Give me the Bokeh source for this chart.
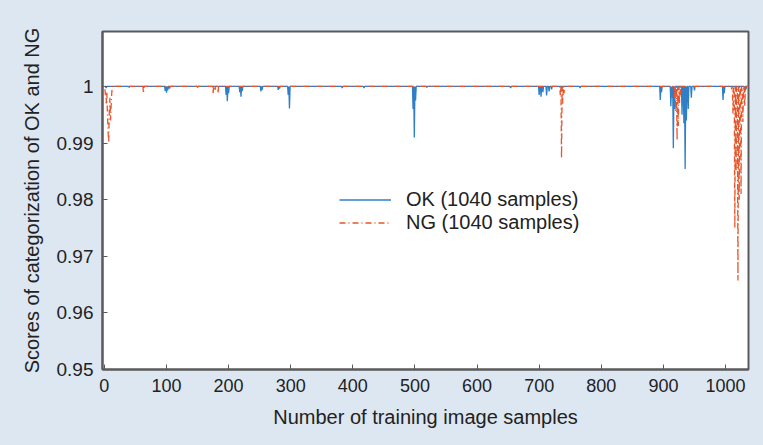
import numpy as np
from bokeh.plotting import figure
from bokeh.models import (ColumnDataSource, Legend, LegendItem, FixedTicker,
                          CustomJSTickFormatter, Range1d)
from bokeh.embed import file_html
from bokeh.resources import INLINE

# ---- data ----
N_SAMPLES = 1040
BASELINE = 1.0

ok_dip_idx = [3, 40, 98, 100, 102, 105, 150, 196, 198, 200, 218, 220, 222,
              252, 254, 280, 282, 296, 298, 383, 418, 497, 499, 501, 519,
              654, 700, 703, 706, 712, 716, 720, 766, 895, 897, 912, 914,
              916, 918, 930, 933, 935, 937, 940, 945, 950, 996, 998, 1031, 1033]
ok_dip_val = [0.9997, 0.9998, 0.9992, 0.9989, 0.9993, 0.9996, 0.9998, 0.9985,
              0.9974, 0.9988, 0.9990, 0.9982, 0.9992, 0.9991, 0.9994, 0.9994,
              0.9996, 0.9985, 0.9961, 0.9997, 0.9997, 0.9960, 0.9910, 0.9975,
              0.9998, 0.9997, 0.9985, 0.9982, 0.9990, 0.9984, 0.9991, 0.9995,
              0.9997, 0.9976, 0.9990, 0.9965, 0.9980, 0.9891, 0.9960, 0.9950,
              0.9935, 0.9854, 0.9940, 0.9960, 0.9980, 0.9993, 0.9976, 0.9988,
              0.9990, 0.9995]

ng_dip_idx = [1, 2, 3, 4, 5, 6, 7, 8, 9, 10, 11, 12, 63, 175, 178, 183,
              734, 736, 738, 740, 918, 920, 922, 924, 926, 928,
              1010, 1012, 1015, 1017, 1020, 1022, 1025, 1028, 1031]
ng_dip_val = [0.9995, 0.9980, 0.9970, 0.9990, 0.9950, 0.9920, 0.9900, 0.9960,
              0.9980, 0.9940, 0.9970, 0.9990, 0.9988, 0.9987, 0.9992, 0.9988,
              0.9985, 0.9873, 0.9970, 0.9988, 0.9980, 0.9955, 0.9905, 0.9930,
              0.9970, 0.9985, 0.9995, 0.9952, 0.9750, 0.9850, 0.9657,
              0.9800, 0.9810, 0.9937, 0.9965]

y_ticks = [0.95, 0.96, 0.97, 0.98, 0.99, 1.0]
x_ticks = [0, 100, 200, 300, 400, 500, 600, 700, 800, 900, 1000]

# ---- build series ----
x = np.arange(1, N_SAMPLES + 1)
ok = np.full(N_SAMPLES, BASELINE)
ng = np.full(N_SAMPLES, BASELINE)
for i, v in zip(ok_dip_idx, ok_dip_val):
    ok[i - 1] = v
for i, v in zip(ng_dip_idx, ng_dip_val):
    ng[i - 1] = v

src = ColumnDataSource(dict(x=x, ok=ok, ng=ng))

BG = "#dde7f2"
FONT = "Liberation Sans"

p = figure(width=755, height=437, output_backend="svg", toolbar_location=None,
           x_range=Range1d(-3, 1037), y_range=Range1d(0.95, 1.0097),
           min_border_left=102, min_border_right=7, min_border_top=31,
           min_border_bottom=68)
p.background_fill_color = "white"
p.border_fill_color = BG
p.outline_line_color = "#5a5a5a"
p.outline_line_width = 2
p.grid.visible = False

OK_COLOR = "#2f7ec6"
NG_COLOR = "#e8552a"
r_ok = p.line("x", "ok", source=src, line_color=OK_COLOR, line_width=1.3)
r_ng = p.line("x", "ng", source=src, line_color=NG_COLOR, line_width=1.3,
              line_dash="6 3 1 3")

for ax in (p.xaxis[0], p.yaxis[0]):
    ax.major_tick_in = 5
    ax.major_tick_out = 0
    ax.minor_tick_in = 0
    ax.minor_tick_out = 0
    ax.axis_line_color = "#5a5a5a"
    ax.axis_line_width = 2
    ax.major_tick_line_color = "#5a5a5a"
    ax.major_label_text_font = FONT
    ax.major_label_text_color = "#222222"
    ax.axis_label_text_font = FONT
    ax.axis_label_text_font_style = "normal"
    ax.axis_label_text_color = "#222222"

p.xaxis.major_label_text_font_size = "18px"
p.yaxis.major_label_text_font_size = "19px"
p.xaxis.axis_label_text_font_size = "20px"
p.yaxis.axis_label_text_font_size = "20px"

p.xaxis.ticker = FixedTicker(ticks=x_ticks)
p.yaxis.ticker = FixedTicker(ticks=y_ticks)
p.yaxis.formatter = CustomJSTickFormatter(
    code="return (Math.round(tick*100)/100).toString();")
p.xaxis.axis_label = "Number of training image samples"
p.yaxis.axis_label = "Scores of categorization of OK and NG"
p.xaxis.major_label_standoff = 9
p.yaxis.major_label_standoff = 9
p.xaxis.axis_label_standoff = 11
p.yaxis.axis_label_standoff = 11

legend = Legend(items=[LegendItem(label="OK (1040 samples)", renderers=[r_ok]),
                       LegendItem(label="NG (1040 samples)", renderers=[r_ng])],
                location=(237, 135), padding=0, margin=0, spacing=0,
                glyph_width=52, glyph_height=21, label_height=21,
                label_standoff=15, label_text_font=FONT,
                label_text_font_size="20px", label_text_color="#222222",
                background_fill_alpha=0, border_line_alpha=0)
p.add_layout(legend, "center")

html = file_html(p, INLINE)
html = html.replace("</head>",
                    "<style>html,body{background:%s;}</style></head>" % BG, 1)
open("out.html", "w").write(html)
